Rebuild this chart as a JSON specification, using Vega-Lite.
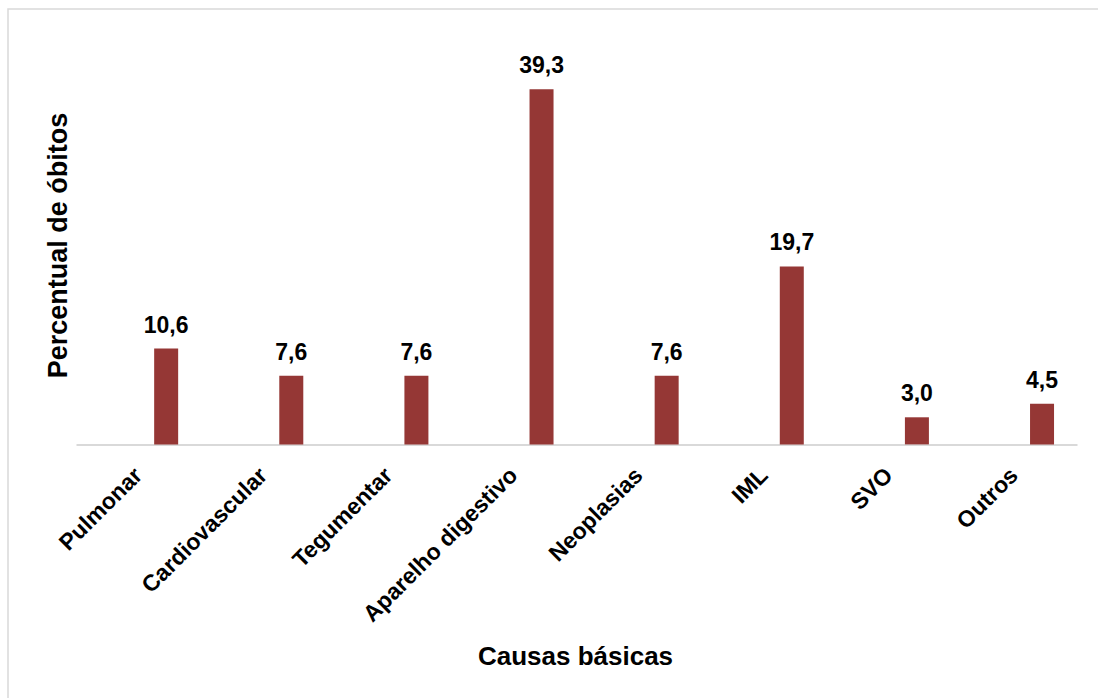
{
  "$schema": "https://vega.github.io/schema/vega-lite/v6.json",
  "width": 1093,
  "height": 692,
  "autosize": {"type": "none"},
  "padding": {"left": 8, "top": 9, "right": -3, "bottom": -3},
  "background": "white",
  "config": {
    "font": "Liberation Sans",
    "view": {"stroke": "#d9d9d9", "strokeWidth": 1.5},
    "locale": {"number": {"decimal": ",", "thousands": ".", "grouping": [3], "currency": ["", ""]}}
  },
  "data": {
    "values": [
      {"causa": "Pulmonar", "pct": 10.6},
      {"causa": "Cardiovascular", "pct": 7.6},
      {"causa": "Tegumentar", "pct": 7.6},
      {"causa": "Aparelho digestivo", "pct": 39.3},
      {"causa": "Neoplasias", "pct": 7.6},
      {"causa": "IML", "pct": 19.7},
      {"causa": "SVO", "pct": 3.0},
      {"causa": "Outros", "pct": 4.5}
    ]
  },
  "encoding": {
    "x": {
      "field": "causa",
      "type": "nominal",
      "sort": null,
      "scale": {"range": [68, 1069], "paddingInner": 0, "paddingOuter": 0},
      "axis": {
        "title": "Causas básicas",
        "titleFont": "Liberation Sans",
        "titleFontSize": 26,
        "titleFontWeight": "bold",
        "titleColor": "#000000",
        "titleX": 567,
        "titleY": 212,
        "titleAlign": "center",
        "titleBaseline": "middle",
        "titleAnchor": null,
        "offset": -256.6,
        "domain": true,
        "domainColor": "#d9d9d9",
        "domainWidth": 2,
        "ticks": false,
        "grid": false,
        "labelAngle": 315,
        "labelAlign": "right",
        "labelBaseline": "middle",
        "labelFont": "Liberation Sans",
        "labelFontSize": 23,
        "labelFontWeight": "bold",
        "labelColor": "#000000",
        "labelPadding": 27,
        "labelOffset": 0,
        "labelOverlap": false,
        "labelLimit": 0
      }
    },
    "y": {
      "field": "pct",
      "type": "quantitative",
      "scale": {"domain": [0, 45], "range": [435.4, 28.8], "nice": false},
      "axis": {
        "title": "Percentual de óbitos",
        "titleFont": "Liberation Sans",
        "titleFontSize": 27,
        "titleFontWeight": "bold",
        "titleColor": "#000000",
        "titleX": 50,
        "titleY": 236,
        "titleAngle": -90,
        "titleAlign": "center",
        "titleBaseline": "middle",
        "titleAnchor": null,
        "domain": false,
        "ticks": false,
        "labels": false,
        "grid": false
      }
    }
  },
  "layer": [
    {
      "mark": {"type": "bar", "width": 24, "xOffset": 27.6, "color": "#953735"}
    },
    {
      "mark": {
        "type": "text",
        "xOffset": 27.6,
        "dy": -16,
        "baseline": "alphabetic",
        "align": "center",
        "font": "Liberation Sans",
        "fontSize": 23,
        "fontWeight": "bold",
        "color": "#000000"
      },
      "encoding": {
        "text": {"field": "pct", "type": "quantitative", "format": ".1f"}
      }
    }
  ]
}
